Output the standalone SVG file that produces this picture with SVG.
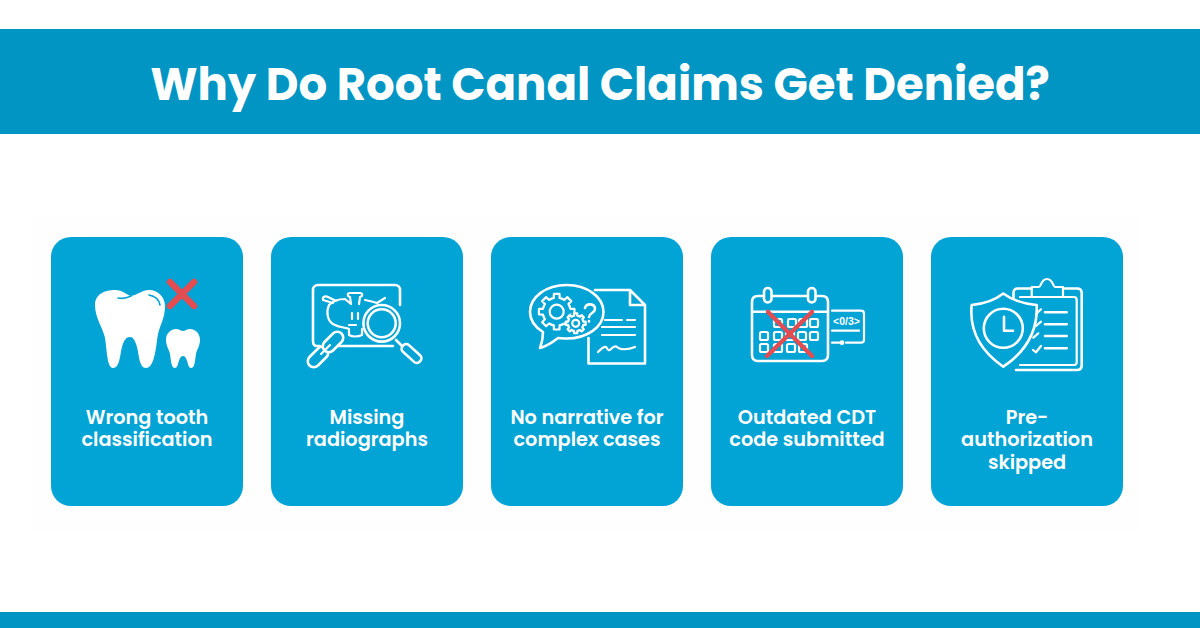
<svg xmlns="http://www.w3.org/2000/svg" width="1200" height="628" viewBox="0 0 1200 628">
<style>
.band{fill:#0095c3}
.card{fill:#02a3d5}
.ln{fill:none;stroke:#fff;stroke-width:2.6;stroke-linecap:round;stroke-linejoin:round}
.th{stroke-width:2.2}
.bg{fill:#02a3d5}
.x{fill:none;stroke:#e34c50;stroke-width:6.5;stroke-linecap:round}
text{font-family:Poppins,Inter,"Liberation Sans",sans-serif;fill:#fff;text-anchor:middle}
.t{font-size:45px;font-weight:700}
.l{font-size:19.3px;font-weight:600}
</style>
<defs>
<g id="gear">
<path id="tooth" vector-effect="non-scaling-stroke" d="M-5.36 -12.93L-2.91 -13.69L-2.82 -17.78H2.82L2.91 -13.69L5.36 -12.93"/>
<use href="#tooth" transform="rotate(45)"/><use href="#tooth" transform="rotate(90)"/><use href="#tooth" transform="rotate(135)"/><use href="#tooth" transform="rotate(180)"/><use href="#tooth" transform="rotate(225)"/><use href="#tooth" transform="rotate(270)"/><use href="#tooth" transform="rotate(315)"/>
</g>
</defs>
<rect width="1200" height="628" fill="#fff"/>
<rect x="32" y="217" width="1108" height="313" fill="#fefefe"/>
<g id="header"><rect class="band" y="29" width="1200" height="105"/><text class="t" x="600" y="100">Why Do Root Canal Claims Get Denied?</text></g>
<rect id="footer" class="band" y="612" width="1200" height="16"/>
<g id="card1"><rect class="card" x="51" y="237" width="192" height="269" rx="20"/>
<path fill="#fff" d="M95 305C95 294 105 290 115 290C123 290 127 295 131 296C137 295 142 290 149 290C158 290 165 297 165 306C165 318 160 325 158 334C156 345 155 368 146 368C139 368 139 354 137 347C135 340 133 337 130 337C126 337 124 340 122 347C120 354 120 368 113 368C107 368 107 350 105 338C103 328 95 318 95 305Z"/>
<path fill="#fff" d="M166 340C166 333 171 329 176 329C179 329 181 331 183 331C185 331 187 329 190 329C196 329 200 334 200 340C200 346 197 349 196 354C195 360 195 368 191 368C187 368 188 356 183 356C178 356 179 368 175 368C171 368 171 360 170 354C169 349 166 346 166 340Z"/>
<path fill="none" stroke="#02a3d5" stroke-width="1.6" stroke-linecap="round" d="M118 298C123 299 127 298 131 296M149 295C155 296 159 300 160 305"/>
<path class="x" d="M170 282L194 306M194 282L170 306"/>
<text class="l" x="147" y="424">Wrong tooth</text><text class="l" x="147" y="446">classification</text></g>
<g id="card2"><rect class="card" x="271" y="237" width="192" height="269" rx="20"/>
<path class="ln" d="M320 346H317C314 346 313 344 313 341V290C313 287 315 285 318 285H395C398 285 400 287 400 290V305M393 346H335"/>
<path class="ln th" d="M345 299C338 299 333 301 329 305M333 303L323 300C322 296 326 296 328 297L336 301M329 305C326 312 327 322 335 325C340 328 346 327 349 329V335C352 337 358 337 362 335V329M345 299L351 304L350 297C347 296 347 293 350 293H360C363 293 363 296 360 297L359 304M365 300C370 301 374 302 377 303L385 298"/>
<path class="ln th" d="M352 313V319M358 313V319M349 325H356"/>
<circle class="bg" cx="381.7" cy="323.3" r="18.3"/>
<circle class="ln" cx="381.7" cy="323.3" r="18.3"/><circle class="ln" cx="381.7" cy="323.3" r="14"/>
<path class="ln" d="M396 340L402 346"/>
<rect class="ln" x="400" y="349" width="23" height="9" rx="4" transform="rotate(42 411.5 353.5)"/>
<rect class="ln" style="fill:#02a3d5" x="306" y="351" width="24" height="12" rx="6" transform="rotate(-45 318 357)"/>
<rect class="ln" style="fill:#02a3d5" x="321" y="336" width="24" height="12" rx="6" transform="rotate(-45 333 342)"/>
<path class="ln th" d="M321 354L330 345"/>
<text class="l" x="367" y="424">Missing</text><text class="l" x="367" y="446">radiographs</text></g>
<g id="card3"><rect class="card" x="491" y="237" width="192" height="269" rx="20"/>
<path class="ln" d="M595 290H630L645 305V363.5H588.5V338M630 290V305H645"/>
<path class="ln" style="fill:#02a3d5" d="M543 332C535 327 530 320 530 312C530 297 546 285 566.7 285C587 285 603.5 297 603.5 312C603.5 327 587 338.500 566.700 338.500C563 338.500 560 338 558 338C553 342 547 346 540 348C542 343 543 338 543 332Z"/>
<path class="ln th" d="M605 320H622M627 320H635M602 327H635M602 335H635M598 352C601 349 604 346 606 347C608 349 608 352 611 349C613 347 615 345 617 347C620 350 628 350 635 347"/>
<g class="ln th" transform="translate(556.700 311.700)"><use href="#gear"/></g>
<circle class="ln th" cx="556.700" cy="311.700" r="7"/>
<circle class="bg" cx="575.700" cy="323.300" r="10.500"/>
<g class="ln th" transform="translate(575.700 323.300) scale(.56)"><use href="#gear"/></g>
<circle class="ln th" cx="575.700" cy="323.300" r="3.500"/>
<path class="ln" d="M585 308C586 303 595 303 595 309C595 313 589 313 589 317M589 321V321.500"/>
<text class="l" x="587" y="424">No narrative for</text><text class="l" x="587" y="446">complex cases</text></g>
<g id="card4"><rect class="card" x="711" y="237" width="192" height="269" rx="20"/>
<path class="ln" d="M763 296H758C754 296 752 298 752 302V355C752 359 754 361 758 361H822C826 361 828 359 828 355V302C828 298 826 296 822 296H816M773 296H807M752 311.700H828"/>
<rect class="ln" x="764" y="288" width="7.500" height="14.500" rx="3.700"/><rect class="ln" x="808" y="288" width="7.500" height="14.500" rx="3.700"/>
<path class="ln th" d="M832 310.700H861C863 310.700 864 311.700 864 313.700V339.700C864 341.700 863 342.700 861 342.700H846M832 330.700H859M832 342.700H842"/>
<circle cx="842" cy="342.700" r="2.400" fill="#fff"/>
<text x="846.500" y="325" style="font-size:10.500px;font-weight:700;font-family:'Liberation Sans',sans-serif">&lt;0/3&gt;</text>
<g class="ln th"><rect x="774" y="319" width="8" height="8" rx="1.500"/><rect x="788" y="319" width="8" height="8" rx="1.500"/><rect x="799" y="319" width="8" height="8" rx="1.500"/><rect x="810" y="319" width="8" height="8" rx="1.500"/><rect x="760" y="332" width="8" height="8" rx="1.500"/><rect x="774" y="332" width="8" height="8" rx="1.500"/><rect x="786" y="332" width="8" height="8" rx="1.500"/><rect x="798" y="332" width="8" height="8" rx="1.500"/><rect x="810" y="332" width="8" height="8" rx="1.500"/><rect x="760" y="344" width="8" height="8" rx="1.500"/><rect x="774" y="344" width="8" height="8" rx="1.500"/><rect x="787" y="344" width="8" height="8" rx="1.500"/><rect x="799" y="344" width="8" height="8" rx="1.500"/></g>
<path class="x" style="stroke-width:4.500" d="M768 312L812 356M812 312L767 356"/>
<text class="l" x="807" y="424">Outdated CDT</text><text class="l" x="807" y="446">code submitted</text></g>
<g id="card5"><rect class="card" x="931" y="237" width="192" height="269" rx="20"/>
<path class="ln" d="M1013.500 298V293C1013.500 290 1015 288.500 1018 288.500H1031.700M1063 288.500H1077C1080 288.500 1081.700 290 1081.700 293V365C1081.700 368 1080 370 1077 370H1016"/>
<path class="ln th" d="M1020 297H1031.700M1063 297H1074C1076 297 1076.700 298 1076.700 300V362C1076.700 364 1076 365 1074 365H1020"/>
<path class="ln th" d="M1031.700 297V287H1039C1041 287 1041 279 1047 279C1053 279 1053 287 1055 287H1063V297Z"/>
<path class="ln" style="fill:#02a3d5" d="M1003.300 293.500C1012 300 1025 304 1036.700 305C1037.500 322 1034 346 1003.300 366.700C973 346 970 322 971.700 305C983 304 995 300 1003.300 293.500Z"/>
<circle class="ln" cx="1003.300" cy="328.300" r="19.500"/><path class="ln" d="M1004 316.700V330.700H1013"/>
<path class="ln" d="M1045 312.300H1066.700M1045 324.300H1066.700M1045 336H1066.700M1045 348.300H1066.700"/>
<path class="ln th" d="M1036 314.300L1041 309.300M1036 326L1041 321.700M1033.300 337.700L1038.300 333.300M1033 350L1036 352.300L1041 346"/>
<text class="l" x="1027" y="424">Pre-</text><text class="l" x="1027" y="446">authorization</text><text class="l" x="1027" y="469">skipped</text></g>
</svg>
